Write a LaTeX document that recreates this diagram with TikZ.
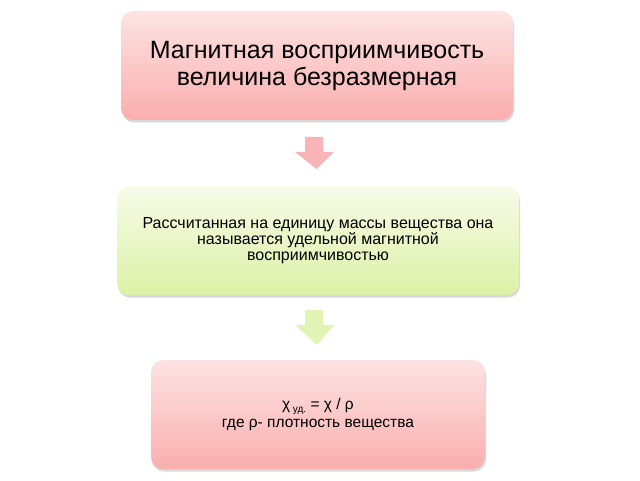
\documentclass[tikz,border=0pt]{standalone}
\usepackage{fontspec}
\setmainfont{Liberation Sans}
\usetikzlibrary{shadows}

\definecolor{pinktop}{HTML}{FDE3E3}
\definecolor{pinkbot}{HTML}{FAAEAE}
\definecolor{greentop}{HTML}{F7FBE8}
\definecolor{greenbot}{HTML}{DDF1A6}
\definecolor{pinkarr}{HTML}{F9B4B8}
\definecolor{greenarr}{HTML}{E2F4B4}

\begin{document}
\begin{tikzpicture}[x=1pt,y=1pt,
    base/.style={rectangle,rounded corners=12pt,align=center,inner sep=0pt,
        drop shadow={shadow xshift=1pt,shadow yshift=-2.5pt,opacity=0.3}},
    pinkbox/.style={base,top color=pinktop,bottom color=pinkbot},
    greenbox/.style={base,top color=greentop,bottom color=greenbot}]

    \useasboundingbox (0,0) rectangle (640,480);

    \node[pinkbox, minimum width=392pt, minimum height=109pt,
        font=\fontsize{25}{27}\selectfont] (magn) at (317,414.5)
    {
        Магнитная восприимчивость\\
        величина безразмерная
    };
    \node[greenbox, minimum width=402pt, minimum height=109pt,
        font=\fontsize{16}{16}\selectfont] (udel) at (318,239.5)
    {
        Рассчитанная на единицу массы вещества она\\
        называется удельной магнитной\\
        восприимчивостью
    };
    \node[pinkbox, minimum width=334pt, minimum height=109pt,
        font=\fontsize{15.5}{18}\selectfont] (form) at (318,65.5)
    {
        χ\,\raisebox{-0.35ex}{\fontsize{10}{10}\selectfont уд.} = χ / ρ\\
        где ρ- плотность вещества
    };

    % block arrows between the boxes (tip coordinates)
    \coordinate (tip1) at (316.5,311);
    \coordinate (tip2) at (317,135);
    \fill[pinkarr] (tip1) -- ++(-21.5,17) -- ++(10,0) -- ++(0,15) -- ++(18,0)
        -- ++(0,-15) -- ++(11,0) -- cycle;
    \fill[greenarr] (tip2) -- ++(-22,20) -- ++(10,0) -- ++(0,15) -- ++(18,0)
        -- ++(0,-15) -- ++(11,0) -- cycle;
\end{tikzpicture}
\end{document}
